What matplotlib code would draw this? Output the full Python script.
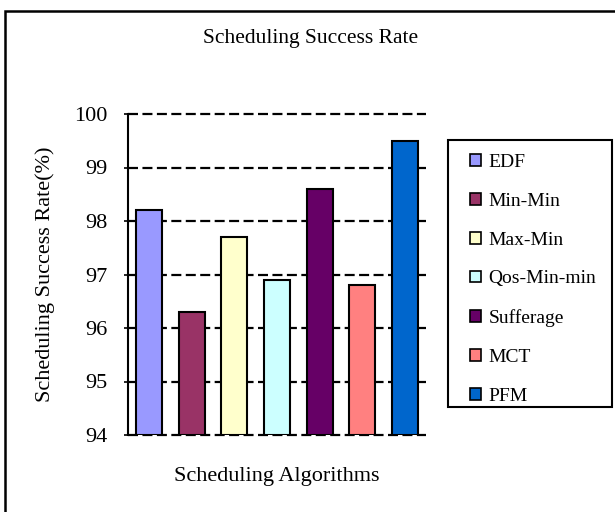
import matplotlib.pyplot as plt
from matplotlib.patches import Rectangle

plt.rcParams['font.family'] = ['Liberation Serif', 'DejaVu Serif']

algorithms = ["EDF", "Min-Min", "Max-Min", "Qos-Min-min", "Sufferage", "MCT", "PFM"]
success_rate = [98.2, 96.3, 97.7, 96.9, 98.6, 96.8, 99.5]
bar_colors = ["#9999FF", "#993366", "#FFFFCC", "#CCFFFF", "#660066", "#FF8080", "#0066CC"]
y_ticks = [94, 95, 96, 97, 98, 99, 100]

W, H = 615, 512
fig = plt.figure(figsize=(W / 100, H / 100), dpi=100)
ax = fig.add_axes([128 / W, 1 - 435 / H, 298 / W, 321 / H])

# bars start from the bottom of the axis (94), not from zero
base = y_ticks[0]
heights = [v - base for v in success_rate]
positions = range(len(algorithms))
ax.bar(positions, heights, bottom=base, width=0.61, color=bar_colors,
       edgecolor="black", linewidth=1.5, zorder=3)

ax.set_xlim(-0.5, len(algorithms) - 0.5)
ax.set_ylim(94, 100)
ax.set_yticks(y_ticks)
ax.set_xticks([])
ax.tick_params(axis="y", labelsize=16, length=3, width=1.2, pad=12)

for y in y_ticks:
    ax.axhline(y, color="black", linestyle=(0, (4.5, 2)), linewidth=1.6,
               zorder=1, clip_on=False)

for side in ["top", "right", "bottom"]:
    ax.spines[side].set_visible(False)
ax.spines["left"].set_linewidth(1.5)
ax.spines["left"].set_zorder(4)

ax.set_ylabel("Scheduling Success Rate(%)", fontsize=16)
ax.yaxis.set_label_coords(-0.245, 0.5)
ax.set_xlabel("Scheduling Algorithms", fontsize=16)
ax.xaxis.set_label_coords(0.5, -0.1)

fig.text(311 / W, 1 - 38 / H, "Scheduling Success Rate", fontsize=15.5,
         ha="center", va="center")

# legend entries, with the frame drawn separately
handles = [Rectangle((0, 0), 1, 1, facecolor=c, edgecolor="black", linewidth=1.2)
           for c in bar_colors]
leg = fig.legend(handles, algorithms, loc="upper left",
                 bbox_to_anchor=(470 / W, 1 - 154 / H), fontsize=14,
                 frameon=False, handlelength=0.55, handleheight=0.55,
                 handletextpad=0.4, labelspacing=1.12, borderpad=0,
                 borderaxespad=0)
fig.patches.append(Rectangle((447.7 / W, 1 - 406.7 / H), 164 / W, 266.7 / H,
                             transform=fig.transFigure, fill=False,
                             edgecolor="black", linewidth=1.5))

# outer border around the whole chart
fig.patches.append(Rectangle((4.5 / W, -0.1), 1.2, 1 - 11 / H + 0.1,
                             transform=fig.transFigure, fill=False,
                             edgecolor="black", linewidth=1.8, clip_on=False))

fig.savefig("out.png", dpi=100)
